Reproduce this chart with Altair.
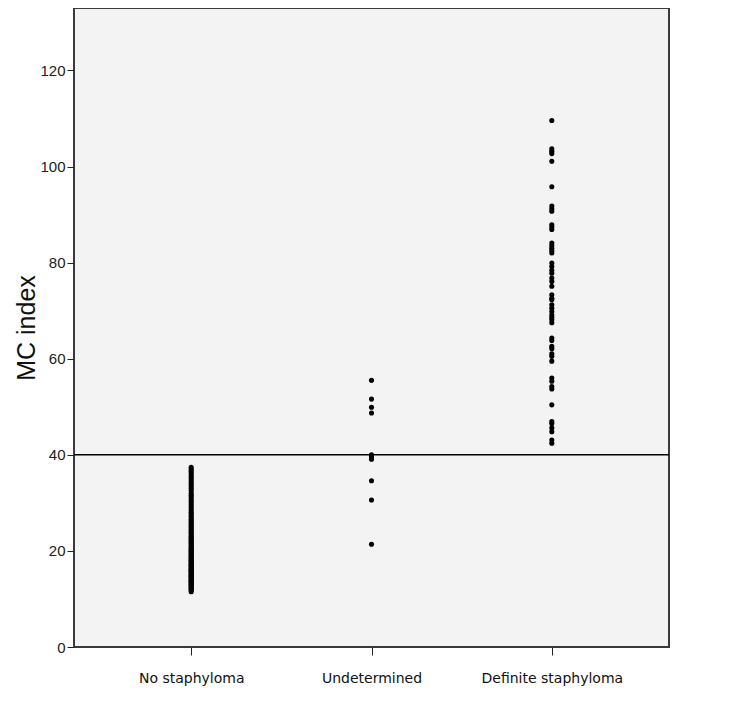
import altair as alt
import pandas as pd

categories = ["No staphyloma", "Undetermined", "Definite staphyloma"]

no_staph = [11.5, 11.8, 12.0, 12.2, 12.4, 12.6, 12.8, 13.0, 13.1, 13.3, 13.5, 13.7, 13.9,
            14.0, 14.2, 14.4, 14.5, 14.7, 14.9, 15.0, 15.2, 15.4, 15.5, 15.7, 15.9, 16.0,
            16.2, 16.4, 16.6, 16.8, 17.0, 17.1, 17.3, 17.5, 17.7, 17.9, 18.0, 18.2, 18.4,
            18.6, 18.8, 19.0, 19.2, 19.4, 19.6, 19.8, 20.0, 20.2, 20.4, 20.6, 20.8, 21.0,
            21.3, 21.5, 21.8, 22.0, 22.3, 22.5, 22.8, 23.0, 23.3, 23.6, 23.9, 24.2, 24.5,
            24.8, 25.1, 25.4, 25.7, 26.0, 26.3, 26.6, 27.0, 27.3, 27.7, 28.0, 28.4, 28.8,
            29.2, 29.6, 30.0, 30.4, 30.8, 31.2, 31.6, 32.0, 32.5, 33.0, 33.4, 33.8, 34.2,
            34.6, 35.0, 35.4, 35.8, 36.2, 36.6, 37.0, 37.4]

undetermined = [55.5, 51.6, 49.9, 48.7, 40.0, 39.6, 39.1, 34.6, 30.6, 21.4]

definite = [109.6, 103.7, 103.2, 102.7, 101.1, 95.8, 91.8, 91.2, 90.7, 87.9, 87.4, 86.9,
            84.1, 83.5, 83.0, 82.5, 82.0, 79.9, 79.2, 78.4, 77.8, 76.8, 76.1, 75.1, 73.3,
            72.6, 72.3, 71.2, 70.5, 69.8, 69.1, 68.6, 68.1, 67.5, 64.3, 63.8, 62.6, 62.1,
            61.0, 60.5, 59.5, 56.0, 55.3, 54.2, 53.7, 50.4, 46.9, 46.5, 45.6, 44.8, 43.1, 42.4]

cutoff = [40]

rows = []
for cat, vals in zip(categories, [no_staph, undetermined, definite]):
    for v in vals:
        rows.append({"group": cat, "mc": v})
df = pd.DataFrame(rows)

xscale = alt.Scale(type="point", padding=0.65, domain=categories)
yscale = alt.Scale(domain=[0, 133], nice=False, zero=True)

points = alt.Chart(df).mark_circle(size=26, color="black", opacity=1).encode(
    x=alt.X("group:N", scale=xscale, sort=categories,
            axis=alt.Axis(title=None, labelAngle=0, labelFont="DejaVu Sans",
                          labelFontSize=14, labelColor="#111", labelPadding=16,
                          tickSize=8, tickColor="#222", domain=False, grid=False)),
    y=alt.Y("mc:Q", scale=yscale,
            axis=alt.Axis(title="MC index", values=[0, 20, 40, 60, 80, 100, 120],
                          titleFont="Liberation Sans", titleFontSize=25,
                          titleFontWeight="normal", titleColor="#111", titlePadding=0,
                          labelFont="Liberation Sans", labelFontSize=15,
                          labelColor="#222", tickSize=7, tickColor="#222",
                          domain=False, grid=False)),
)

rule = alt.Chart(pd.DataFrame({"y": cutoff})).mark_rule(color="black", strokeWidth=1.5).encode(
    y=alt.Y("y:Q", scale=yscale)
)

chart = alt.layer(rule, points).properties(
    width=595, height=639,
    autosize=alt.AutoSizeParams(type="none"),
    padding={"left": 66, "top": 0, "right": 67, "bottom": 67},
    background="white",
).configure_view(
    fill="#f3f3f3", stroke="#3a3a3a", strokeWidth=2
)

chart.save("out.html", embed_options={"renderer": "svg", "actions": False})
